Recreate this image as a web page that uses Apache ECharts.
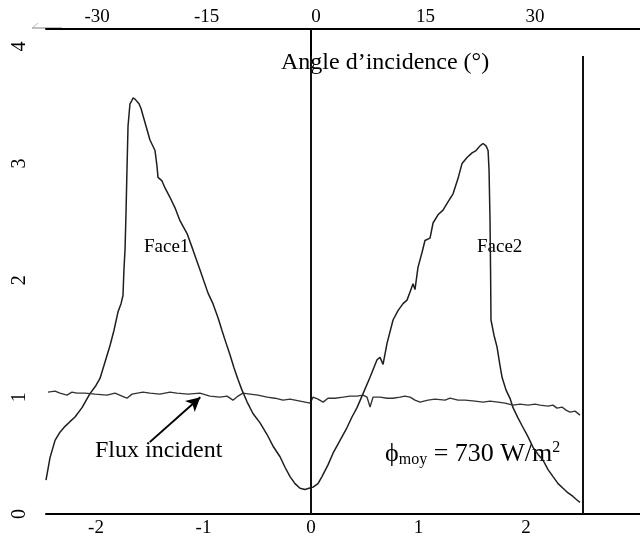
<!DOCTYPE html>
<html><head><meta charset="utf-8">
<script src="https://cdn.jsdelivr.net/npm/echarts@6/dist/echarts.min.js"></script>
<style>html,body{margin:0;padding:0;background:#fff}#c{width:640px;height:540px}</style>
</head><body><div id="c"></div>
<script>
// Bottom axis tick labels
const bottomTicks = [-2, -1, 0, 1, 2];
// Top axis: angle of incidence (deg)
const topTicks = [-30, -15, 0, 15, 30];
const yTicks = [0, 1, 2, 3, 4];

// Measured flux curve (Face1 then Face2)
const faceX = [-2.465,-2.428,-2.381,-2.335,-2.288,-2.242,-2.195,-2.130,-2.056,-2.0,-1.963,-1.916,-1.870,-1.833,-1.795,-1.767,-1.749,-1.740,-1.730,-1.721,-1.712,-1.702,-1.684,-1.665,-1.656,-1.637,-1.619,-1.600,-1.581,-1.563,-1.535,-1.498,-1.451,-1.433,-1.423,-1.386,-1.358,-1.312,-1.265,-1.219,-1.153,-1.098,-1.033,-0.958,-0.912,-0.865,-0.828,-0.800,-0.753,-0.716,-0.679,-0.642,-0.595,-0.540,-0.474,-0.409,-0.353,-0.288,-0.242,-0.195,-0.149,-0.102,-0.056,-0.019,0.019,0.065,0.102,0.158,0.205,0.270,0.335,0.381,0.428,0.484,0.549,0.614,0.642,0.670,0.707,0.763,0.809,0.856,0.893,0.921,0.949,0.967,0.995,1.033,1.060,1.107,1.135,1.181,1.228,1.274,1.321,1.367,1.405,1.451,1.498,1.535,1.572,1.600,1.628,1.647,1.656,1.665,1.670,1.674,1.702,1.730,1.758,1.777,1.814,1.851,1.879,1.926,1.972,2.019,2.065,2.112,2.158,2.205,2.251,2.298,2.344,2.391,2.437,2.474,2.502];
const faceY = [0.29,0.48,0.63,0.70,0.75,0.79,0.83,0.91,1.03,1.10,1.16,1.30,1.44,1.57,1.73,1.80,1.87,2.09,2.26,2.57,2.94,3.32,3.51,3.54,3.56,3.55,3.56,3.51,3.47,3.41,3.32,3.20,3.11,2.98,2.88,2.85,2.79,2.71,2.62,2.51,2.40,2.26,2.09,1.89,1.80,1.68,1.57,1.49,1.36,1.25,1.15,1.06,0.96,0.86,0.78,0.68,0.58,0.49,0.40,0.32,0.26,0.22,0.21,0.22,0.23,0.26,0.32,0.42,0.52,0.63,0.74,0.83,0.91,1.03,1.17,1.32,1.34,1.28,1.46,1.66,1.74,1.80,1.83,1.90,1.97,1.92,2.11,2.24,2.34,2.36,2.49,2.56,2.60,2.67,2.74,2.87,3.00,3.05,3.09,3.11,3.15,3.17,3.15,3.11,2.94,2.51,2.09,1.66,1.53,1.43,1.27,1.17,1.06,0.99,0.91,0.82,0.74,0.66,0.57,0.51,0.46,0.38,0.32,0.26,0.22,0.18,0.15,0.12,0.10];

// Incident flux
const fluxX = [-2.447,-2.381,-2.335,-2.270,-2.223,-2.177,-2.102,-2.009,-1.898,-1.823,-1.758,-1.712,-1.665,-1.563,-1.498,-1.405,-1.312,-1.247,-1.144,-1.033,-0.940,-0.847,-0.781,-0.726,-0.679,-0.633,-0.567,-0.493,-0.409,-0.335,-0.260,-0.195,-0.102,-0.009,0.019,0.065,0.112,0.158,0.223,0.298,0.363,0.428,0.484,0.521,0.549,0.577,0.642,0.707,0.763,0.828,0.874,0.921,0.967,1.014,1.088,1.153,1.247,1.293,1.367,1.433,1.526,1.600,1.665,1.740,1.805,1.879,1.944,2.019,2.084,2.130,2.205,2.251,2.288,2.335,2.372,2.409,2.456,2.502];
const fluxY = [1.043,1.051,1.034,1.017,1.043,1.034,1.034,1.026,1.017,1.034,1.009,0.991,1.026,1.043,1.034,1.026,1.043,1.034,1.026,1.034,1.009,1.0,1.009,0.974,1.009,1.034,1.026,1.017,1.0,0.991,0.974,0.983,0.966,0.949,1.0,0.983,0.957,0.991,0.991,1.0,1.009,1.009,1.017,1.0,0.915,1.0,1.0,0.991,0.991,1.0,1.009,1.0,0.974,0.957,0.974,0.983,0.974,0.991,0.974,0.974,0.966,0.957,0.966,0.957,0.949,0.932,0.940,0.932,0.940,0.932,0.923,0.932,0.906,0.915,0.889,0.872,0.880,0.846];

// Vertical reference lines (x positions) and arrow (from label to curve)
const vLinesX = [0, 2.53];
const vLineTop = 3.92;
const arrowFrom = [-1.50, 0.615];
const arrowTo = [-1.03, 1.0];

const faceData = faceX.map((x, i) => [x, faceY[i]]);
const fluxData = fluxX.map((x, i) => [x, fluxY[i]]);

const serif = '"Liberation Serif", "DejaVu Serif", serif';
const chart = echarts.init(document.getElementById('c'), null, {renderer: 'canvas'});
chart.setOption({
  animation: false,
  backgroundColor: '#fff',
  grid: {left: 46, right: 0, top: 29, bottom: 26, containLabel: false},
  xAxis: [
    {type: 'value', position: 'bottom', min: -2.465, max: 3.06,
     axisLine: {show: true, onZero: false, lineStyle: {color: '#000', width: 2}},
     axisTick: {show: false}, splitLine: {show: false},
     axisLabel: {customValues: bottomTicks, color: '#000', fontFamily: serif, fontSize: 19, margin: 5}},
    {type: 'value', position: 'top', min: -37.0, max: 44.4,
     axisLine: {show: true, onZero: false, lineStyle: {color: '#000', width: 2}},
     axisTick: {show: false}, splitLine: {show: false},
     axisLabel: {customValues: topTicks, color: '#000', fontFamily: serif, fontSize: 19, margin: 2}}
  ],
  yAxis: {type: 'value', min: 0, max: 4.15,
    axisLine: {show: true, lineStyle: {color: '#000', width: 2}},
    axisTick: {show: false}, splitLine: {show: false},
    axisLabel: {customValues: yTicks, rotate: 90, color: '#000', fontFamily: serif, fontSize: 20, margin: 16}},
  series: [
    {type: 'line', data: faceData, showSymbol: false, symbol: 'none',
     lineStyle: {color: '#1e1e1e', width: 1.5}},
    {type: 'line', data: fluxData, showSymbol: false, symbol: 'none',
     lineStyle: {color: '#333', width: 1.4},
     markLine: {silent: true, symbol: ['none', 'none'], label: {show: false},
       data: [
         ...vLinesX.map(x => [{coord: [x, 0], lineStyle: {color: '#111', width: 2, type: 'solid'}}, {coord: [x, vLineTop]}]),
         [{coord: arrowFrom, symbol: 'none', lineStyle: {color: '#000', width: 2, type: 'solid'}},
          {coord: arrowTo, symbol: 'arrow', symbolSize: [11, 14]}]
       ]}}
  ],
  graphic: [
    {type: 'text', left: 281, top: 51, style: {text: 'Angle d’incidence (°)', font: '24px ' + serif, fill: '#000'}},
    {type: 'text', left: 144, top: 238, style: {text: 'Face1', font: '19px ' + serif, fill: '#000'}},
    {type: 'text', left: 477, top: 238, style: {text: 'Face2', font: '19px ' + serif, fill: '#000'}},
    {type: 'text', left: 95, top: 439, style: {text: 'Flux incident', font: '24px ' + serif, fill: '#000'}},
    {type: 'text', left: 385, top: 440, style: {
      text: '{a|ϕ}{b|moy}{a| = 730 W/m}{c|2}',
      rich: {
        a: {fontFamily: serif, fontSize: 26, color: '#000'},
        b: {fontFamily: serif, fontSize: 16, color: '#000', verticalAlign: 'bottom', padding: [10, 0, 0, 0]},
        c: {fontFamily: serif, fontSize: 16, color: '#000', verticalAlign: 'top', padding: [0, 0, 12, 0]}
      }}},
    {type: 'line', shape: {x1: 32, y1: 28, x2: 62, y2: 28}, style: {stroke: '#aaa', lineWidth: 1.5}},
    {type: 'line', shape: {x1: 32, y1: 28, x2: 38, y2: 23}, style: {stroke: '#bbb', lineWidth: 1}}
  ]
});
</script></body></html>
